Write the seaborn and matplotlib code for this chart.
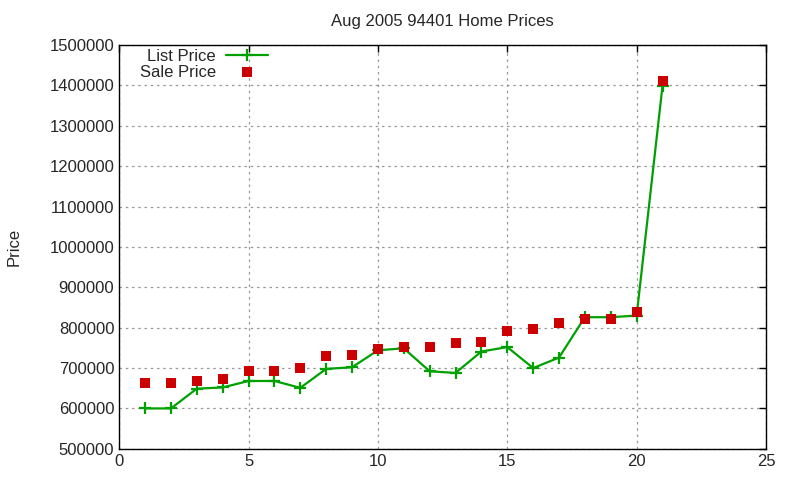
import numpy as np
import pandas as pd
import seaborn as sns
import matplotlib.pyplot as plt

# house index (sorted by price)
house = list(range(1, 22))

list_price = [600000, 600000, 649000, 652000, 668000, 668000, 651000, 698000,
              702000, 744000, 749000, 692000, 688000, 741000, 752000, 700000,
              726000, 826000, 826000, 830000, 1399000]

sale_price = [662000, 662000, 667000, 672000, 692000, 692000, 701000, 730000,
              732000, 747000, 752000, 752000, 762000, 764000, 792000, 797000,
              811000, 821000, 821000, 840000, 1410000]

df = pd.DataFrame({'house': house, 'list': list_price, 'sale': sale_price})

sns.set_style('white')
plt.rcParams['font.family'] = ['Liberation Sans', 'DejaVu Sans']
plt.rcParams['font.size'] = 12

fig = plt.figure(figsize=(8, 4.8), dpi=100)
ax = fig.add_axes([0.149, 0.065, 0.8085, 0.841])

green = '#00a000'
# list price: line with + markers
sns.lineplot(data=df, x='house', y='list', ax=ax, color=green, linewidth=1.6,
             marker='+', markersize=8, markeredgewidth=1.6, markeredgecolor=green,
             label='List Price', zorder=3)
# sale price: red squares
sns.scatterplot(data=df, x='house', y='sale', ax=ax, color='#cc0000', marker='s',
                s=46, linewidth=0, label='Sale Price', zorder=4)

ax.set_xlim(0, 25)
ax.set_ylim(500000, 1500000)
ax.set_xticks(range(0, 26, 5))
ax.set_yticks(range(500000, 1500001, 100000))
ax.ticklabel_format(style='plain', axis='y', useOffset=False)

ax.grid(True, color='#999999', linestyle=(0, (2, 3)), linewidth=0.9)
ax.tick_params(direction='in', length=5, width=1, top=True, right=True, labelsize=12, color='black')
for sp in ax.spines.values():
    sp.set_color('black')
    sp.set_linewidth(1)

ax.set_xlabel('')
ax.set_ylabel('Price', fontsize=12, labelpad=20)
ax.set_title('Aug 2005 94401 Home Prices', fontsize=12, pad=14)

leg = ax.legend(loc='upper left', bbox_to_anchor=(0.014, 1.02), frameon=False, markerfirst=False,
                handlelength=2.5, handletextpad=0.6, labelspacing=0.05, fontsize=12,
                borderaxespad=0.3)

fig.savefig('out.png', dpi=100)
